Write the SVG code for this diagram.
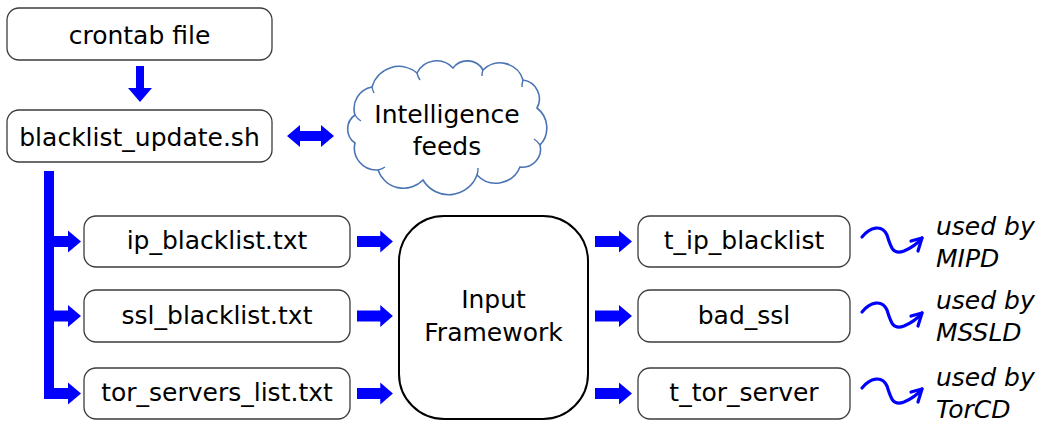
<svg xmlns="http://www.w3.org/2000/svg" width="1042" height="422" viewBox="0 0 1042 422">
  <style>
    .box { fill: #ffffff; stroke: #3c3c3c; stroke-width: 1.3; }
    .big { fill: #ffffff; stroke: #000000; stroke-width: 2; }
    .lbl { font-family: "DejaVu Sans", Verdana, sans-serif; font-size: 25px; fill: #000000; text-anchor: middle; }
    .use { font-family: "DejaVu Sans", Verdana, sans-serif; font-size: 25px; font-style: italic; fill: #000000; }
    .blk { fill: #0000ff; stroke: none; }
    .sq { fill: none; stroke: #0000ff; stroke-width: 3.2; stroke-linecap: round; stroke-linejoin: round; }
    .cloud { fill: #ffffff; stroke: #4a74b4; stroke-width: 1.6; }
    .crease { fill: none; stroke: #4a74b4; stroke-width: 1.4; }
  </style>
  <defs>
    <!-- right-pointing block arrow, origin at tail centre -->
    <path id="rarrow" d="M0,-5.5 H24 V-11 L37,0 L24,11 V5.5 H0 Z"/>
    <!-- wavy "used by" pointer -->
    <g id="wave">
      <path class="sq" d="M862,237 C870,227 882,224 887,235 C891,248 893,255 904,251 C911,248 918,243 922,238"/>
      <path class="sq" d="M911,241 L922,238 L918,251"/>
    </g>
  </defs>

  <rect width="1042" height="422" fill="#ffffff"/>

  <g id="connectors">
    <!-- crontab to script -->
    <path class="blk" d="M136,66 H144 V88 H152 L140,102 L128,88 H136 Z"/>
    <!-- script to feeds, both ways -->
    <path class="blk" d="M287,136 L300,125 V131 H321 V125 L334,136 L321,147 V141 H300 V147 Z"/>
    <!-- trunk from the script -->
    <rect class="blk" x="44" y="171" width="10" height="228"/>
    <use href="#rarrow" class="blk" transform="translate(44,241.5)"/>
    <use href="#rarrow" class="blk" transform="translate(44,316)"/>
    <use href="#rarrow" class="blk" transform="translate(44,393.5)"/>
    <!-- lists into the framework -->
    <use href="#rarrow" class="blk" transform="translate(357,241.5) scale(0.97,1)"/>
    <use href="#rarrow" class="blk" transform="translate(357,316) scale(0.97,1)"/>
    <use href="#rarrow" class="blk" transform="translate(357,393.5) scale(0.97,1)"/>
    <!-- framework into the tables -->
    <use href="#rarrow" class="blk" transform="translate(595,241.5)"/>
    <use href="#rarrow" class="blk" transform="translate(595,316)"/>
    <use href="#rarrow" class="blk" transform="translate(595,393.5)"/>
    <!-- tables to their consumers -->
    <use href="#wave"/>
    <use href="#wave" transform="translate(0,75)"/>
    <use href="#wave" transform="translate(0,151)"/>
  </g>

  <g id="crontab">
    <rect class="box" x="7" y="8" width="265" height="52" rx="12"/>
    <text class="lbl" x="139.5" y="44">crontab file</text>
  </g>

  <g id="update-script">
    <rect class="box" x="7" y="110" width="265" height="52" rx="12"/>
    <text class="lbl" x="139.5" y="146">blacklist_update.sh</text>
  </g>

  <g id="feeds">
    <path class="cloud" d="M355,115
      A22,22 0 0 1 372,87
      A28,28 0 0 1 417,73
      A22,22 0 0 1 453,68
      A18,18 0 0 1 483,70
      A24,24 0 0 1 523,80
      A19,19 0 0 1 537,108
      A25,25 0 0 1 540,145
      A18,18 0 0 1 520,167
      A26,26 0 0 1 477,175
      A30,30 0 0 1 423,180
      A27,27 0 0 1 378,170
      A22,22 0 0 1 355,143
      A17,17 0 0 1 355,115 Z"/>
    <path class="crease" d="M355,115 A16,16 0 0 0 361,121 M372,87 A22,22 0 0 0 374,93 M417,73 A18,18 0 0 0 420,80 M483,70 A16,16 0 0 0 482,76 M523,80 A22,22 0 0 0 522,87 M540,145 A20,20 0 0 0 534,139 M477,175 A20,20 0 0 0 478,168 M378,170 A18,18 0 0 0 385,167"/>
    <text class="lbl" x="447" y="123">Intelligence</text>
    <text class="lbl" x="447" y="155">feeds</text>
  </g>

  <g id="ip-list">
    <rect class="box" x="84" y="216" width="266" height="51" rx="12"/>
    <text class="lbl" x="217" y="249">ip_blacklist.txt</text>
  </g>
  <g id="ssl-list">
    <rect class="box" x="84" y="290" width="266" height="52" rx="12"/>
    <text class="lbl" x="217" y="324">ssl_blacklist.txt</text>
  </g>
  <g id="tor-list">
    <rect class="box" x="84" y="368" width="266" height="51" rx="12"/>
    <text class="lbl" x="217" y="401">tor_servers_list.txt</text>
  </g>

  <g id="input-framework">
    <rect class="big" x="399" y="216" width="189" height="203" rx="45"/>
    <text class="lbl" x="493.5" y="308">Input</text>
    <text class="lbl" x="493.5" y="341">Framework</text>
  </g>

  <g id="t-ip-blacklist">
    <rect class="box" x="638" y="216" width="212" height="51" rx="12"/>
    <text class="lbl" x="744" y="249">t_ip_blacklist</text>
  </g>
  <g id="bad-ssl">
    <rect class="box" x="638" y="290" width="212" height="52" rx="12"/>
    <text class="lbl" x="744" y="324">bad_ssl</text>
  </g>
  <g id="t-tor-server">
    <rect class="box" x="638" y="368" width="212" height="51" rx="12"/>
    <text class="lbl" x="744" y="401">t_tor_server</text>
  </g>

  <g id="consumers">
    <text class="use" x="936" y="235">used by</text>
    <text class="use" x="936" y="267">MIPD</text>
    <text class="use" x="936" y="309">used by</text>
    <text class="use" x="936" y="341">MSSLD</text>
    <text class="use" x="936" y="386">used by</text>
    <text class="use" x="936" y="418">TorCD</text>
  </g>
</svg>
